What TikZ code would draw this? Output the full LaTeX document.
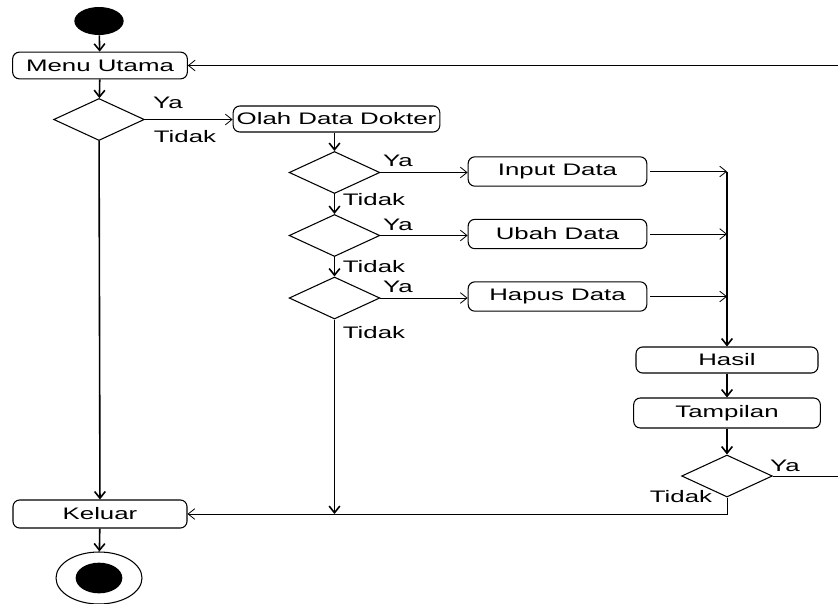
\documentclass[tikz,border=0pt]{standalone}
\usepackage{fontspec}
\setmainfont{Liberation Sans}[FakeStretch=1.55]
\usetikzlibrary{shapes.geometric,arrows.meta}
\tikzset{
	act/.style={draw, rounded corners=5pt, line width=0.8pt, inner sep=0pt, font=\fontsize{12.5}{14}\selectfont},
	dec/.style={draw, diamond, line width=0.8pt, inner sep=0pt, minimum width=68pt, minimum height=31.5pt},
	flow/.style={line width=0.6pt, -{Straight Barb[length=5pt,width=8pt]}},
	down/.style={line width=1.2pt, -{Straight Barb[length=5pt,width=8pt]}},
	lbl/.style={font=\fontsize{12.5}{14}\selectfont}
}
\begin{document}
\begin{tikzpicture}[x=0.75pt,y=-0.75pt]
			\useasboundingbox (0,0) rectangle (838,603);
			\node[fill, ellipse, inner sep=0pt, minimum width=37pt, minimum height=21pt] (start) at (99,21) {};
			\node[act, minimum width=131pt, minimum height=20pt] (menu) at (100,65.5) {Menu Utama};
			\node[dec] (d1) at (99,119.5) {};
			\node[act, minimum width=155pt, minimum height=19.5pt] (olah) at (336.5,119) {Olah Data Dokter};
			\node[dec] (d2) at (334.5,172.5) {};
			\node[dec] (d3) at (334.5,235.5) {};
			\node[dec] (d4) at (334.5,298) {};
			\node[act, minimum width=134pt, minimum height=22pt] (input) at (557.5,171.5) {Input Data};
			\node[act, minimum width=134pt, minimum height=22pt] (ubah) at (557.5,234) {Ubah Data};
			\node[act, minimum width=134pt, minimum height=22pt] (hapus) at (557.5,296.5) {Hapus Data};
			\node[act, minimum width=136.5pt, minimum height=19.5pt] (hasil) at (727,360) {Hasil};
			\node[act, minimum width=140pt, minimum height=22.5pt] (tampil) at (727,413) {Tampilan};
			\node[dec] (d5) at (727,476) {};
			\node[act, minimum width=130.5pt, minimum height=21pt] (keluar) at (100,514) {Keluar};
			\node[draw, ellipse, line width=0.8pt, inner sep=0pt, minimum width=64.5pt, minimum height=39pt] (stop) at (99,578) {};
			\node[fill, ellipse, inner sep=0pt, minimum width=35pt, minimum height=23pt] (stopdot) at (stop.center) {};

			\node[lbl] (ya1) at (168,103) {Ya};
			\node[lbl] (tidak1) at (185,137) {Tidak};
			\node[lbl] (ya2) at (398,161) {Ya};
			\node[lbl] (tidak2) at (374,200) {Tidak};
			\node[lbl] (ya3) at (398,225) {Ya};
			\node[lbl] (tidak3) at (374,267) {Tidak};
			\node[lbl] (ya4) at (398,287) {Ya};
			\node[lbl] (tidak4) at (374,333) {Tidak};
			\node[lbl] (ya5) at (785,466) {Ya};
			\node[lbl] (tidak5) at (681,497) {Tidak};

			\coordinate (bartop) at (hasil |- input);
			\coordinate (loopa) at (838,476);
			\coordinate (loopb) at (loopa |- menu);

			\draw[down] (start) -- (menu);
			\draw[down] (menu) -- (d1);
			\draw[flow] (d1.east) -- (d1.east -| olah.west);
			\draw[down] (d1) -- (keluar);
			\draw[down] (olah.south -| d2) -- (d2);
			\draw[flow] (d2) -- (d2 -| input.west);
			\draw[down] (d2) -- (d3);
			\draw[flow] (d3) -- (d3 -| ubah.west);
			\draw[down] (d3) -- (d4);
			\draw[flow] (d4) -- (d4 -| hapus.west);
			\draw[down] (d4) -- (d4 |- keluar);
			\draw[flow, shorten <=2pt] (input) -- (bartop);
			\draw[flow, shorten <=2pt] (ubah) -- (ubah -| bartop);
			\draw[flow, shorten <=2pt] (hapus) -- (hapus -| bartop);
			\draw[down] (bartop) -- (hasil);
			\draw[down] (hasil) -- (tampil);
			\draw[down] (tampil) -- (d5);
			\draw[flow] (d5.east) -- (loopa) -- (loopb) -- (menu);
			\draw[flow] (d5) -- (d5 |- keluar) -- (keluar);
			\draw[down] (keluar) -- (stop);
		\end{tikzpicture}
\end{document}
